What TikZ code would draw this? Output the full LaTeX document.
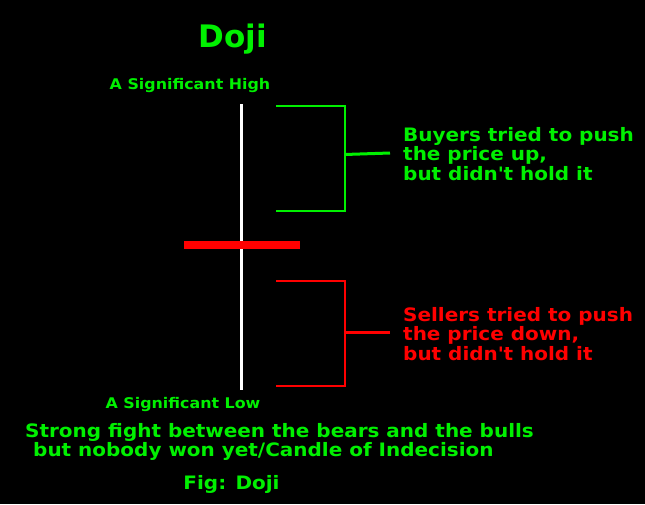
\documentclass[tikz,border=0pt]{standalone}
\usepackage{fontspec}
\setmainfont{DejaVu Sans}
\newfontfamily\widefont{DejaVu Sans}[FakeStretch=1.08]
\usetikzlibrary{positioning}
\definecolor{dojigreen}{HTML}{00F000}
\definecolor{dojired}{HTML}{FF0000}

\begin{document}
\begin{tikzpicture}[
  x=1pt,y=-1pt,
  every node/.style={inner sep=0pt,font=\widefont\bfseries},
  mark label/.style={text=dojigreen,font=\widefont\bfseries\fontsize{14.7}{16}\selectfont,anchor=base},
  note/.style={align=left,anchor=north west,font=\widefont\bfseries\fontsize{18.5}{19.7}\selectfont},
  bracket/.style={line width=2pt},
  tick/.style={line width=3pt}
]
\fill[black] (0,0) rectangle (645,504);
\useasboundingbox (0,0) rectangle (645,504);
% title and price marks
\node[text=dojigreen,font=\bfseries\fontsize{31}{34}\selectfont,anchor=base] (title) at (233,47) {Doji};
\node[mark label] (high) at (190,89) {A Significant High};
\node[mark label] (low) at (183,408) {A Significant Low};
% the candle
\coordinate (wicktop) at (241.5,104);
\coordinate (wickbot) at (241.5,390);
\draw[white,line width=3pt] (wicktop) -- (wickbot);
\node[fill=dojired,minimum width=116pt,minimum height=8pt] (body) at (242,245) {};
% upper bracket
\node[note,text=dojigreen] (buyers) at (403,127) {Buyers tried to push\\the price up,\\but didn\textquotesingle t hold it};
\coordinate (uptop) at (276,105.5);
\coordinate (upbot) at (276,211);
\coordinate (upmid) at (344.5,154.5);
\coordinate (upend) at (390,153);
\draw[bracket,dojigreen] (uptop) -| (344.5,211) -- (upbot);
\draw[tick,dojigreen] (upmid) -- (upend);
% lower bracket
\node[note,text=dojired] (sellers) at (403,307) {Sellers tried to push\\the price down,\\but didn\textquotesingle t hold it};
\coordinate (dntop) at (276,281);
\coordinate (dnbot) at (276,386);
\coordinate (dnmid) at (344.5,332);
\coordinate (dnend) at (390,332);
\draw[bracket,dojired] (dntop) -| (344.5,386) -- (dnbot);
\draw[tick,dojired] (dnmid) -- (dnend);
% summary
\node[note,text=dojigreen] (summary) at (25,423) {Strong fight between the bears and the bulls\\\hspace*{8pt}but nobody won yet/Candle of Indecision};
\node[text=dojigreen,font=\widefont\bfseries\fontsize{18.5}{20}\selectfont,anchor=base] (caption) at (231.5,489) {Fig: Doji};
\end{tikzpicture}
\end{document}
